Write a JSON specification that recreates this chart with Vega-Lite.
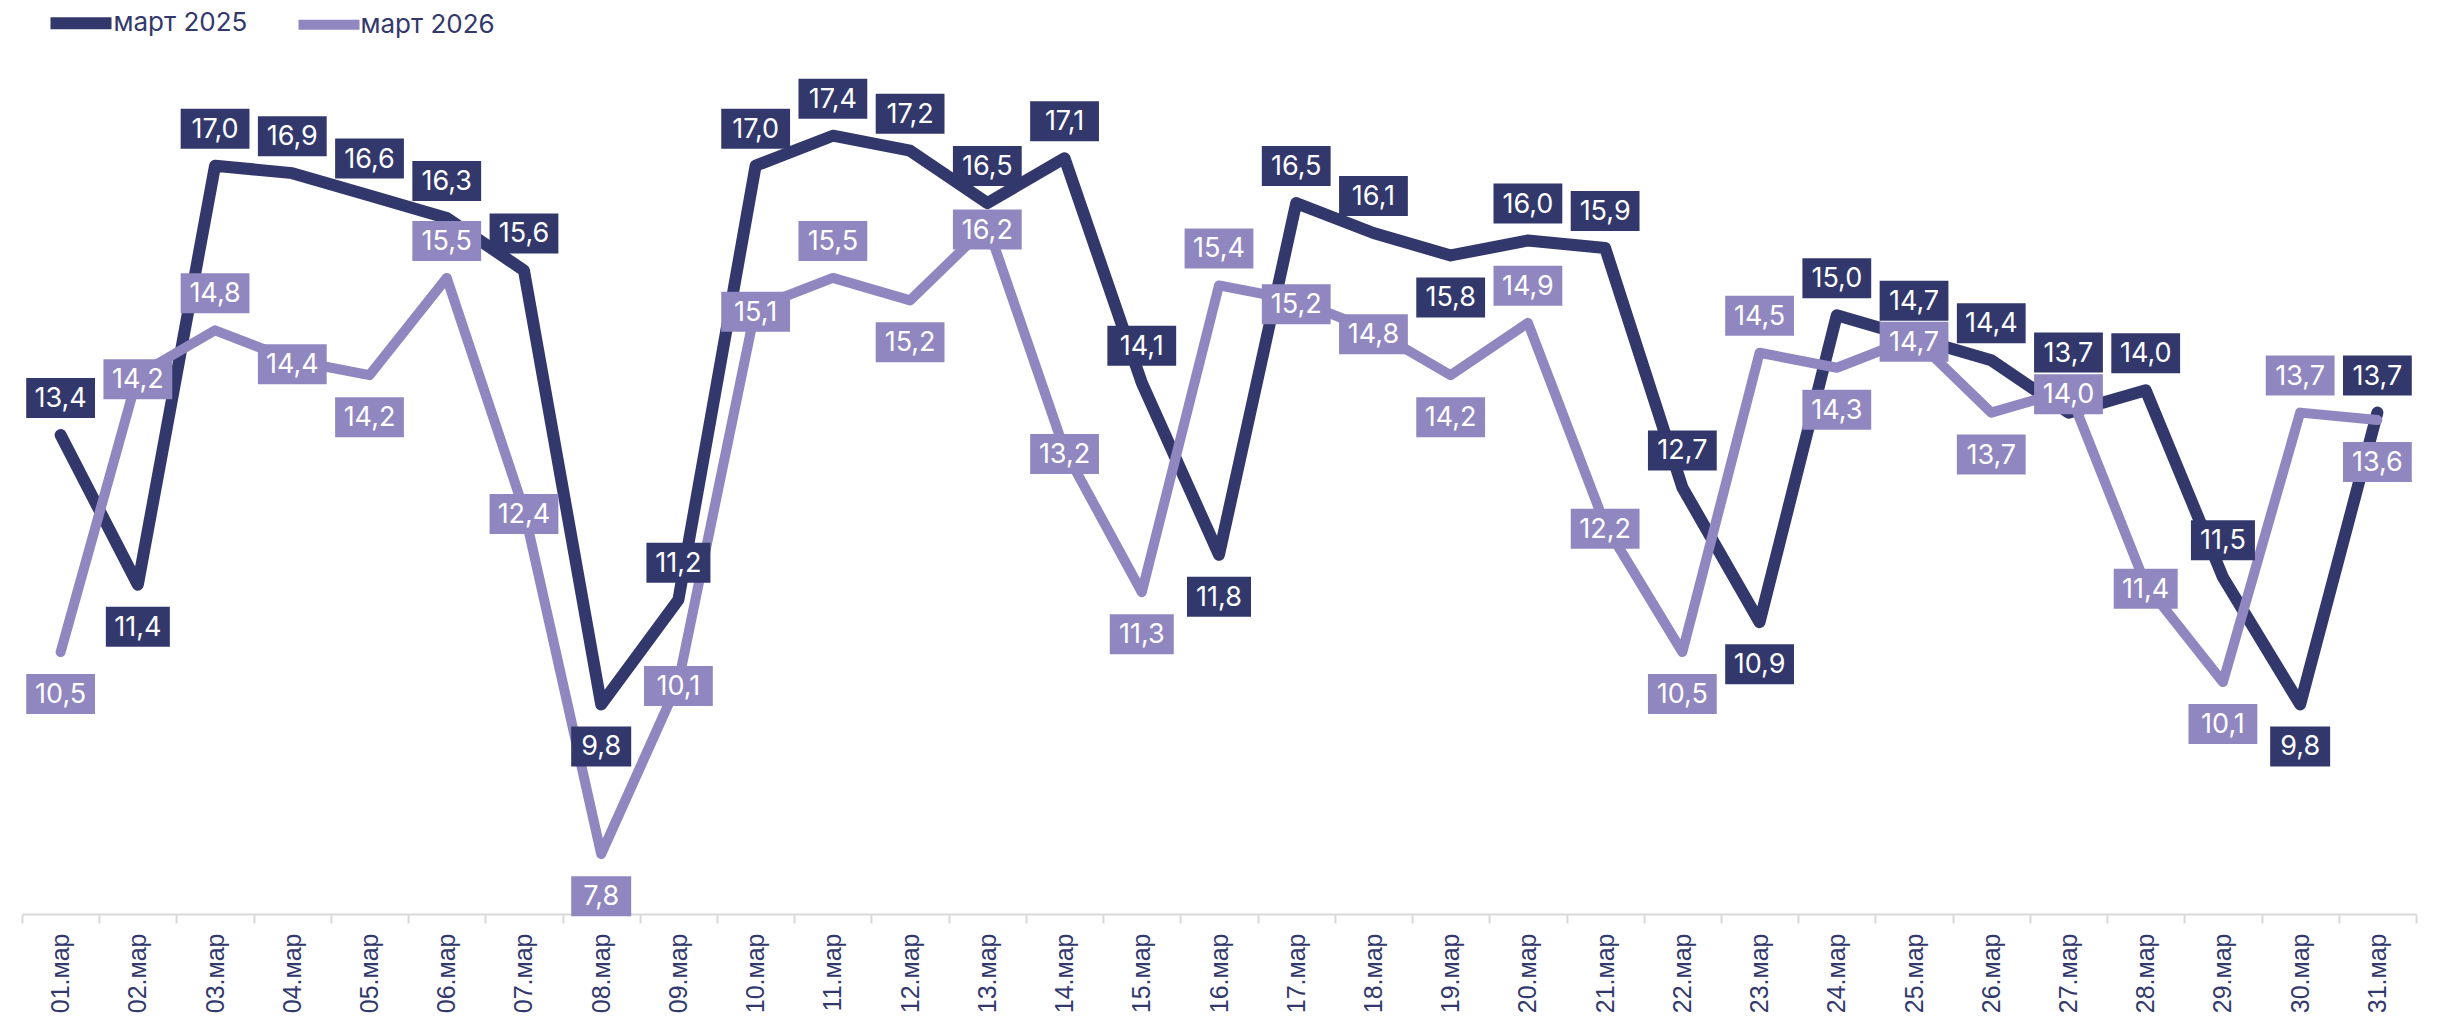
{
  "$schema": "https://vega.github.io/schema/vega-lite/v6.json",
  "autosize": {"type": "none"},
  "width": 2394,
  "height": 898,
  "padding": {"left": 22, "top": 16, "right": 24, "bottom": 102},
  "config": {
    "view": {"stroke": null},
    "locale": {"number": {"decimal": ",", "thousands": " ", "grouping": [3], "currency": ["", " ₽"]}}
  },
  "datasets": {
    "main": [
      {"d": "01.мар", "series": "март 2025", "v": 13.4}, {"d": "01.мар", "series": "март 2026", "v": 10.5},
      {"d": "02.мар", "series": "март 2025", "v": 11.4}, {"d": "02.мар", "series": "март 2026", "v": 14.2},
      {"d": "03.мар", "series": "март 2025", "v": 17.0}, {"d": "03.мар", "series": "март 2026", "v": 14.8},
      {"d": "04.мар", "series": "март 2025", "v": 16.9}, {"d": "04.мар", "series": "март 2026", "v": 14.4},
      {"d": "05.мар", "series": "март 2025", "v": 16.6}, {"d": "05.мар", "series": "март 2026", "v": 14.2},
      {"d": "06.мар", "series": "март 2025", "v": 16.3}, {"d": "06.мар", "series": "март 2026", "v": 15.5},
      {"d": "07.мар", "series": "март 2025", "v": 15.6}, {"d": "07.мар", "series": "март 2026", "v": 12.4},
      {"d": "08.мар", "series": "март 2025", "v": 9.8}, {"d": "08.мар", "series": "март 2026", "v": 7.8},
      {"d": "09.мар", "series": "март 2025", "v": 11.2}, {"d": "09.мар", "series": "март 2026", "v": 10.1},
      {"d": "10.мар", "series": "март 2025", "v": 17.0}, {"d": "10.мар", "series": "март 2026", "v": 15.1},
      {"d": "11.мар", "series": "март 2025", "v": 17.4}, {"d": "11.мар", "series": "март 2026", "v": 15.5},
      {"d": "12.мар", "series": "март 2025", "v": 17.2}, {"d": "12.мар", "series": "март 2026", "v": 15.2},
      {"d": "13.мар", "series": "март 2025", "v": 16.5}, {"d": "13.мар", "series": "март 2026", "v": 16.2},
      {"d": "14.мар", "series": "март 2025", "v": 17.1}, {"d": "14.мар", "series": "март 2026", "v": 13.2},
      {"d": "15.мар", "series": "март 2025", "v": 14.1}, {"d": "15.мар", "series": "март 2026", "v": 11.3},
      {"d": "16.мар", "series": "март 2025", "v": 11.8}, {"d": "16.мар", "series": "март 2026", "v": 15.4},
      {"d": "17.мар", "series": "март 2025", "v": 16.5}, {"d": "17.мар", "series": "март 2026", "v": 15.2},
      {"d": "18.мар", "series": "март 2025", "v": 16.1}, {"d": "18.мар", "series": "март 2026", "v": 14.8},
      {"d": "19.мар", "series": "март 2025", "v": 15.8}, {"d": "19.мар", "series": "март 2026", "v": 14.2},
      {"d": "20.мар", "series": "март 2025", "v": 16.0}, {"d": "20.мар", "series": "март 2026", "v": 14.9},
      {"d": "21.мар", "series": "март 2025", "v": 15.9}, {"d": "21.мар", "series": "март 2026", "v": 12.2},
      {"d": "22.мар", "series": "март 2025", "v": 12.7}, {"d": "22.мар", "series": "март 2026", "v": 10.5},
      {"d": "23.мар", "series": "март 2025", "v": 10.9}, {"d": "23.мар", "series": "март 2026", "v": 14.5},
      {"d": "24.мар", "series": "март 2025", "v": 15.0}, {"d": "24.мар", "series": "март 2026", "v": 14.3},
      {"d": "25.мар", "series": "март 2025", "v": 14.7}, {"d": "25.мар", "series": "март 2026", "v": 14.7},
      {"d": "26.мар", "series": "март 2025", "v": 14.4}, {"d": "26.мар", "series": "март 2026", "v": 13.7},
      {"d": "27.мар", "series": "март 2025", "v": 13.7}, {"d": "27.мар", "series": "март 2026", "v": 14.0},
      {"d": "28.мар", "series": "март 2025", "v": 14.0}, {"d": "28.мар", "series": "март 2026", "v": 11.4},
      {"d": "29.мар", "series": "март 2025", "v": 11.5}, {"d": "29.мар", "series": "март 2026", "v": 10.1},
      {"d": "30.мар", "series": "март 2025", "v": 9.8}, {"d": "30.мар", "series": "март 2026", "v": 13.7},
      {"d": "31.мар", "series": "март 2025", "v": 13.7}, {"d": "31.мар", "series": "март 2026", "v": 13.6}
    ]
  },
  "data": {"name": "main"},
  "transform": [
    {"window": [{"op": "lag", "field": "v", "as": "prev"}, {"op": "lead", "field": "v", "as": "next"}], "groupby": ["series"], "sort": [{"field": "d"}]},
    {"joinaggregate": [{"op": "sum", "field": "v", "as": "tot"}], "groupby": ["d"]},
    {"calculate": "(datum.prev == null || datum.v < datum.prev) && (datum.next == null || datum.v < datum.next)", "as": "isMin"},
    {"calculate": "(datum.prev == null || datum.v > datum.prev) && (datum.next == null || datum.v > datum.next)", "as": "isMax"},
    {"calculate": "abs(2 * datum.v - datum.tot) < 0.5", "as": "close"},
    {"calculate": "datum.series == 'март 2025' ? ((datum.close && 2 * datum.v < datum.tot - 0.01) ? 'A' : ((datum.isMin && !datum.close) ? 'b' : 'a')) : (datum.isMin ? 'b' : ((datum.isMax && !datum.close) ? 'a' : 'c'))", "as": "side"}
  ],
  "encoding": {
    "x": {
      "field": "d", "type": "ordinal",
      "scale": {"type": "band", "paddingInner": 0, "paddingOuter": 0},
      "axis": {
        "title": null, "tickBand": "extent", "tickSize": 9, "tickWidth": 2, "tickColor": "#d9d9d9",
        "domainColor": "#d9d9d9", "domainWidth": 2, "labelAngle": -90, "labelAlign": "right", "labelBaseline": "middle",
        "labelPadding": 10, "labelFont": "Liberation Sans", "labelFontSize": 25, "labelColor": "#32386C"
      }
    },
    "y": {"field": "v", "type": "quantitative", "scale": {"domain": [7, 19], "nice": false, "zero": false}, "axis": null}
  },
  "layer": [
    {
      "mark": {"type": "line", "strokeCap": "round", "strokeJoin": "round"},
      "encoding": {
        "color": {
          "field": "series", "type": "nominal",
          "scale": {"domain": ["март 2025", "март 2026"], "range": ["#32386C", "#9187C0"]},
          "legend": {
            "orient": "none", "legendX": 22.5, "legendY": -29.5, "direction": "horizontal", "title": null,
            "symbolType": "stroke", "symbolSize": 3721, "symbolStrokeWidth": 11,
            "labelFont": "Inter", "labelFontSize": 26, "labelColor": "#32386C", "labelOffset": -4,
            "columnPadding": 31, "padding": 0
          }
        },
        "strokeWidth": {"field": "series", "type": "nominal", "scale": {"domain": ["март 2025", "март 2026"], "range": [12, 10]}, "legend": null}
      }
    },
    {
      "transform": [{"filter": "datum.side == 'c'"}],
      "layer": [
        {
          "mark": {"type": "point", "filled": true, "opacity": 1, "strokeWidth": 0, "size": 1600, "yOffset": 4},
          "encoding": {
            "color": {"field": "series", "type": "nominal", "legend": null},
            "shape": {"condition": [{"test": "datum.v < 10", "value": "M-1.5,-1H1.5V1H-1.5Z"}, {"test": "datum.v >= 11 && datum.v < 12", "value": "M-1.6,-1H1.6V1H-1.6Z"}], "value": "M-1.72,-1H1.72V1H-1.72Z"}
          }
        },
        {
          "mark": {"type": "text", "font": "Inter", "fontSize": 27, "color": "white", "align": "center", "baseline": "middle", "yOffset": 5},
          "encoding": {"text": {"field": "v", "type": "quantitative", "format": ".1f"}}
        }
      ]
    },
    {
      "transform": [{"filter": "datum.side == 'a'"}],
      "layer": [
        {
          "mark": {"type": "point", "filled": true, "opacity": 1, "strokeWidth": 0, "size": 1600, "yOffset": -37},
          "encoding": {
            "color": {"field": "series", "type": "nominal", "legend": null},
            "shape": {"condition": [{"test": "datum.v < 10", "value": "M-1.5,-1H1.5V1H-1.5Z"}, {"test": "datum.v >= 11 && datum.v < 12", "value": "M-1.6,-1H1.6V1H-1.6Z"}], "value": "M-1.72,-1H1.72V1H-1.72Z"}
          }
        },
        {
          "mark": {"type": "text", "font": "Inter", "fontSize": 27, "color": "white", "align": "center", "baseline": "middle", "yOffset": -36},
          "encoding": {"text": {"field": "v", "type": "quantitative", "format": ".1f"}}
        }
      ]
    },
    {
      "transform": [{"filter": "datum.side == 'A'"}],
      "layer": [
        {
          "mark": {"type": "point", "filled": true, "opacity": 1, "strokeWidth": 0, "size": 1600, "yOffset": -60},
          "encoding": {
            "color": {"field": "series", "type": "nominal", "legend": null},
            "shape": {"condition": [{"test": "datum.v < 10", "value": "M-1.5,-1H1.5V1H-1.5Z"}, {"test": "datum.v >= 11 && datum.v < 12", "value": "M-1.6,-1H1.6V1H-1.6Z"}], "value": "M-1.72,-1H1.72V1H-1.72Z"}
          }
        },
        {
          "mark": {"type": "text", "font": "Inter", "fontSize": 27, "color": "white", "align": "center", "baseline": "middle", "yOffset": -59},
          "encoding": {"text": {"field": "v", "type": "quantitative", "format": ".1f"}}
        }
      ]
    },
    {
      "transform": [{"filter": "datum.side == 'b'"}],
      "layer": [
        {
          "mark": {"type": "point", "filled": true, "opacity": 1, "strokeWidth": 0, "size": 1600, "yOffset": 42},
          "encoding": {
            "color": {"field": "series", "type": "nominal", "legend": null},
            "shape": {"condition": [{"test": "datum.v < 10", "value": "M-1.5,-1H1.5V1H-1.5Z"}, {"test": "datum.v >= 11 && datum.v < 12", "value": "M-1.6,-1H1.6V1H-1.6Z"}], "value": "M-1.72,-1H1.72V1H-1.72Z"}
          }
        },
        {
          "mark": {"type": "text", "font": "Inter", "fontSize": 27, "color": "white", "align": "center", "baseline": "middle", "yOffset": 43},
          "encoding": {"text": {"field": "v", "type": "quantitative", "format": ".1f"}}
        }
      ]
    }
  ]
}
